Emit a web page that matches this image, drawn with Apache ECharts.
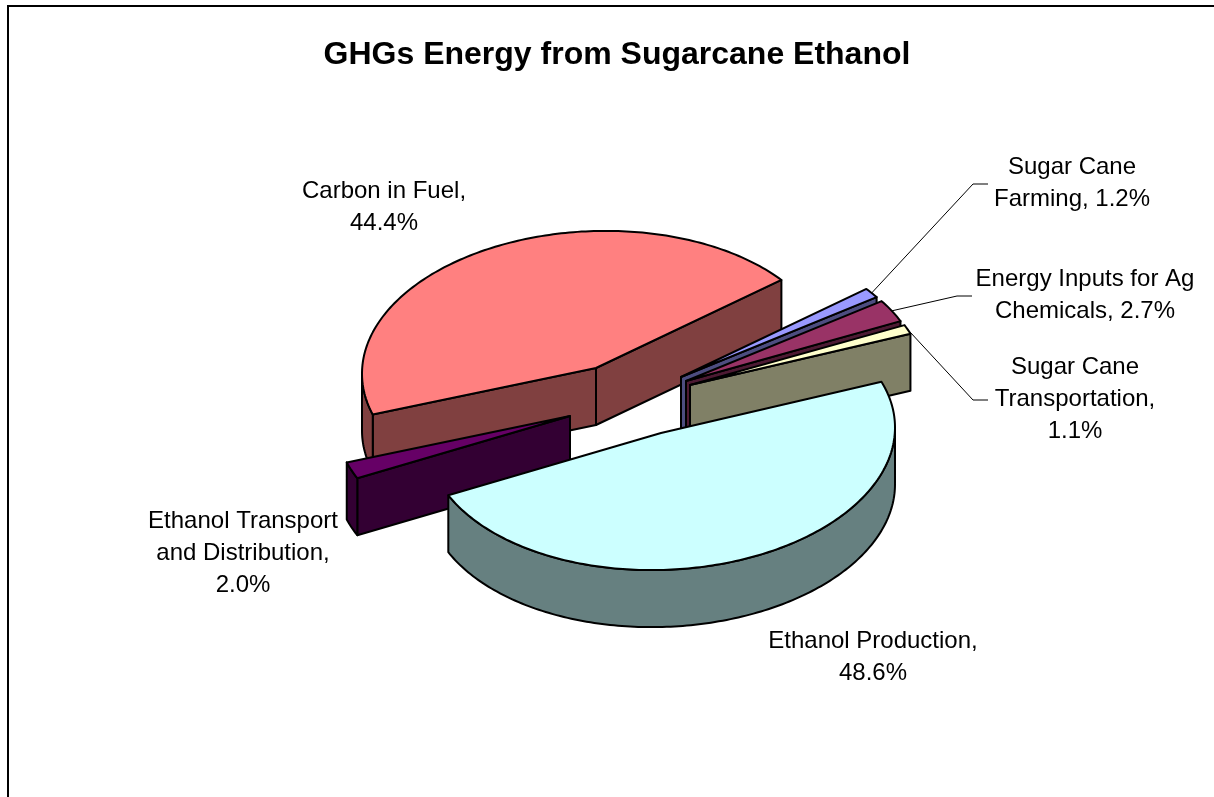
<!DOCTYPE html>
<html>
<head>
<meta charset="utf-8">
<title>GHGs Energy from Sugarcane Ethanol</title>
<script src="https://cdn.jsdelivr.net/npm/echarts@6/dist/echarts.min.js"></script>
<style>
    html, body {margin: 0; padding: 0; background: #fff;}
    #main {width: 1214px; height: 797px;}
</style>
</head>
<body>
<div id="main"></div>
<script>
var chartTitle = 'GHGs Energy from Sugarcane Ethanol';

// data, in the pie's clockwise order
var categories = ['Sugar Cane Farming', 'Energy Inputs for Ag Chemicals', 'Sugar Cane Transportation',
    'Ethanol Production', 'Ethanol Transport and Distribution', 'Carbon in Fuel'];
var shares = [1.2, 2.7, 1.1, 48.6, 2.0, 44.4];
var labelTexts = ['Sugar Cane\nFarming, {v}%', 'Energy Inputs for Ag\nChemicals, {v}%', 'Sugar Cane\nTransportation,\n{v}%',
    'Ethanol Production,\n{v}%', 'Ethanol Transport\nand Distribution,\n{v}%', 'Carbon in Fuel,\n{v}%'];

// look of the pie
var topColors = ['#9999ff', '#993366', '#ffffcc', '#ccffff', '#660066', '#ff8080'];
var sideColors = ['#4d4d80', '#4d1a33', '#808066', '#668080', '#330033', '#804040'];
var paintOrder = [1, 2, 3, 5, 4, 0];
var firstAngle = 322.4;
var radiusX = 234, radiusY = 137, depth = 57;
var tilt = -0.024; // the picture leans a little, left side lower than right
var apexes = [[681, 377], [686, 381], [690, 385], [661, 433], [570, 416], [596, 368]];
var labelSpots = [[1072, 183], [1085, 295], [1075, 399], [873, 657], [243, 553], [384, 207]];
var leaderBends = [[[973, 184], [988, 184]], [[957, 296], [972, 296]], [[973, 400], [988, 400]], null, null, null];

var total = shares.reduce(function (a, b) { return a + b; }, 0);

function rimPoint(c, deg, drop) {
    var r = deg * Math.PI / 180;
    var dx = radiusX * Math.cos(r);
    return [c[0] + dx, c[1] + radiusY * Math.sin(r) + tilt * dx + (drop || 0)];
}

function arcPoints(c, from, to, drop) {
    var pts = [];
    var n = Math.max(2, Math.ceil(to - from));
    for (var i = 0; i <= n; i++) {
        pts.push(rimPoint(c, from + (to - from) * i / n, drop));
    }
    return pts;
}

function poly(points, fill, z2) {
    return {
        type: 'polygon',
        z2: z2,
        shape: {points: points},
        style: {fill: fill, stroke: '#000', lineWidth: 2, lineJoin: 'round'}
    };
}

function renderSlice(params, api) {
    var i = params.dataIndex;
    var before = 0;
    for (var k = 0; k < i; k++) before += shares[k];
    var a0 = firstAngle + before / total * 360;
    var a1 = a0 + api.value(1) / total * 360;
    var c = apexes[i];
    var z = paintOrder[i] * 10;
    var side = sideColors[i];
    var kids = [];

    // cut faces that look towards the viewer
    if (-Math.cos(a0 * Math.PI / 180) > 0) {
        var s = rimPoint(c, a0);
        kids.push(poly([c, s, [s[0], s[1] + depth], [c[0], c[1] + depth]], side, z));
    }
    if (Math.cos(a1 * Math.PI / 180) > 0) {
        var e = rimPoint(c, a1);
        kids.push(poly([c, e, [e[0], e[1] + depth], [c[0], c[1] + depth]], side, z));
    }
    // outer rim, front half only
    [0, 360].forEach(function (base) {
        var from = Math.max(a0, base), to = Math.min(a1, base + 180);
        if (to > from) {
            var upper = arcPoints(c, from, to, 0);
            var lower = arcPoints(c, from, to, depth).reverse();
            kids.push(poly(upper.concat(lower), side, z + 1));
        }
    });
    // top face
    kids.push(poly([c].concat(arcPoints(c, a0, a1, 0)), topColors[i], z + 2));

    if (leaderBends[i]) {
        kids.push({
            type: 'polyline',
            z2: 100,
            shape: {points: [rimPoint(c, (a0 + a1) / 2)].concat(leaderBends[i])},
            style: {fill: 'none', stroke: '#000', lineWidth: 1}
        });
    }
    kids.push({
        type: 'text',
        z2: 110,
        x: labelSpots[i][0],
        y: labelSpots[i][1],
        style: {
            text: labelTexts[i].replace('{v}', api.value(1).toFixed(1)),
            align: 'center',
            verticalAlign: 'middle',
            font: '24px "Liberation Sans", Arial, sans-serif',
            lineHeight: 32,
            fill: '#000'
        }
    });
    return {type: 'group', children: kids};
}

var myChart = echarts.init(document.getElementById('main'));
var option = {
    backgroundColor: '#fff',
    animation: false,
    title: {
        text: chartTitle,
        left: 612,
        top: 34,
        textAlign: 'center',
        textStyle: {fontFamily: '"Liberation Sans", Arial, sans-serif', fontWeight: 'bold', fontSize: 32, color: '#000'}
    },
    graphic: [{
        type: 'polyline',
        shape: {points: [[1214, 6], [8, 6], [8, 797]]},
        style: {fill: 'none', stroke: '#000', lineWidth: 2}
    }],
    series: [{
        type: 'custom',
        coordinateSystem: 'none',
        renderItem: renderSlice,
        data: categories.map(function (name, i) {
            return {name: name, value: [i, shares[i]]};
        })
    }]
};
myChart.setOption(option);
</script>
</body>
</html>
